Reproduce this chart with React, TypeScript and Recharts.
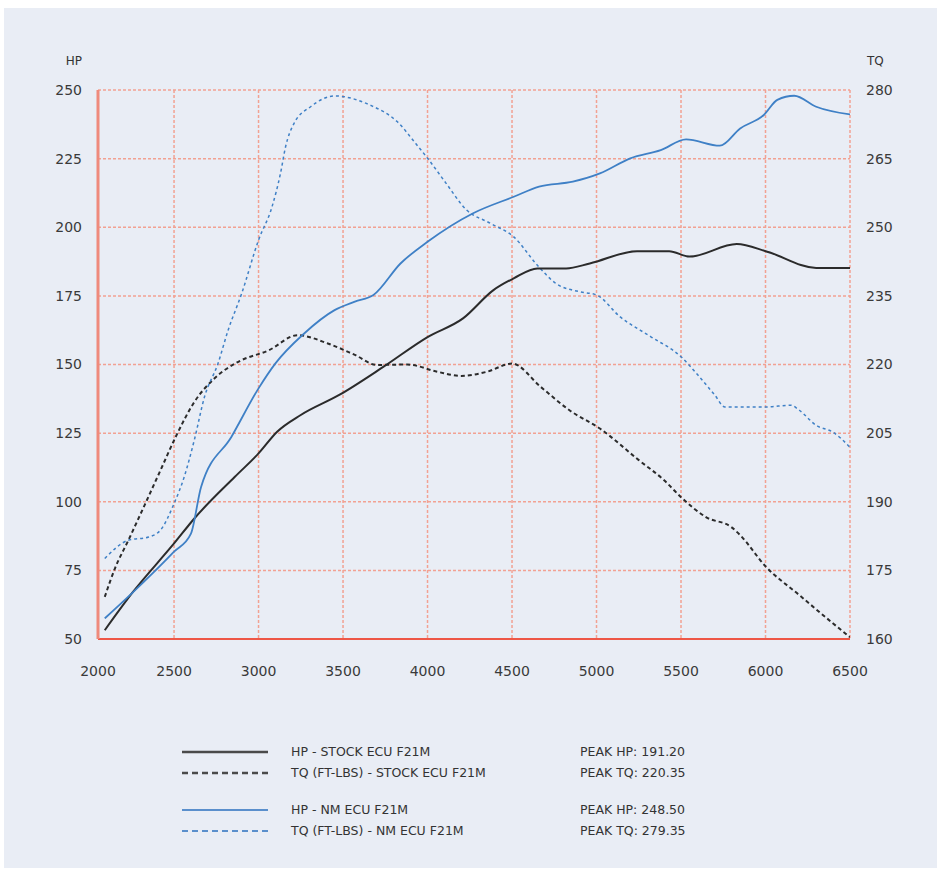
import { CartesianGrid, Line, LineChart, XAxis, YAxis } from 'recharts'

// x axis: the plot starts a little after 2000 rpm, first tick is labelled 2000
const X_TICKS = [2050, 2500, 3000, 3500, 4000, 4500, 5000, 5500, 6000, 6500]
const X_TICK_LABELS = ['2000', '2500', '3000', '3500', '4000', '4500', '5000', '5500', '6000', '6500']
const HP_TICKS = [50, 75, 100, 125, 150, 175, 200, 225, 250]
const TQ_TICKS = [160, 175, 190, 205, 220, 235, 250, 265, 280]

const STOCK_HP_RPM = [2090, 2250, 2500, 2620, 2860, 3000, 3110, 3250, 3480, 3740, 4000, 4210, 4390, 4510, 4650, 4820, 4960, 5240, 5430, 5550, 5830, 6010, 6300, 6500]
const STOCK_HP = [53.2, 66.6, 84.8, 93.9, 109.1, 117.6, 125.5, 131.6, 139.0, 149.2, 160.0, 166.8, 177.1, 181.4, 185.0, 185.0, 186.8, 191.3, 191.3, 189.3, 193.9, 191.1, 185.2, 185.2]

const STOCK_TQ_RPM = [2090, 2150, 2230, 2330, 2420, 2510, 2620, 2740, 2880, 3060, 3230, 3410, 3570, 3700, 3880, 4060, 4200, 4350, 4500, 4670, 4840, 5020, 5250, 5400, 5500, 5650, 5800, 5850, 6000, 6200, 6400, 6500]
const STOCK_TQ = [169.2, 175.4, 181.6, 189.6, 196.9, 204.2, 211.8, 217.0, 220.6, 223.1, 226.4, 224.6, 222.1, 219.9, 220.0, 218.4, 217.5, 218.4, 220.2, 215.1, 210.0, 206.0, 199.1, 194.7, 191.0, 186.6, 184.4, 182.7, 175.9, 169.6, 163.4, 160.4]

const NM_HP_RPM = [2090, 2250, 2500, 2600, 2660, 2840, 3000, 3100, 3270, 3450, 3570, 3680, 3840, 4000, 4270, 4510, 4660, 4860, 5020, 5200, 5380, 5530, 5730, 5850, 5990, 6070, 6170, 6300, 6500]
const NM_HP = [57.5, 66.6, 81.8, 88.4, 105.4, 123.7, 141.3, 150.4, 161.3, 169.8, 172.9, 175.3, 186.8, 194.7, 205.1, 211.1, 214.8, 216.6, 219.6, 225.1, 228.1, 232.0, 229.7, 236.0, 240.9, 246.4, 247.9, 243.9, 241.1]

const NM_TQ_RPM = [2090, 2230, 2350, 2420, 2500, 2560, 2620, 2680, 2760, 2820, 2900, 3000, 3080, 3130, 3160, 3210, 3310, 3450, 3660, 3820, 3930, 4000, 4110, 4230, 4370, 4510, 4650, 4760, 4900, 5000, 5140, 5320, 5500, 5600, 5700, 5760, 6000, 6150, 6200, 6300, 6400, 6500]
const NM_TQ = [177.6, 181.6, 182.3, 183.8, 189.6, 195.4, 203.5, 212.9, 220.2, 227.5, 235.5, 247.2, 254.5, 261.8, 267.6, 272.7, 276.4, 278.7, 276.7, 273.1, 268.3, 265.1, 259.6, 253.8, 250.9, 247.9, 241.7, 237.7, 235.9, 235.2, 230.4, 226.1, 221.7, 217.7, 213.3, 210.7, 210.7, 211.1, 210.0, 206.7, 205.2, 201.9]

const LEGEND_LABELS = ['HP - STOCK ECU F21M', 'TQ (FT-LBS) - STOCK ECU F21M', 'HP - NM ECU F21M', 'TQ (FT-LBS) - NM ECU F21M']
const LEGEND_PEAKS = ['PEAK HP: 191.20', 'PEAK TQ: 220.35', 'PEAK HP: 248.50', 'PEAK TQ: 279.35']

const BLACK = '#2b2b2b'
const BLUE = '#3f80c6'

const toPoints = (rpm: number[], vals: number[]) => rpm.map((r, i) => ({ rpm: r, v: vals[i] }))

const tickStyle = { fontSize: 14, fill: '#3a3a3a', fontFamily: 'DejaVu Sans' }

const legendRows = [
  { top: 744, color: '#4a4a4a', width: 2.5, dash: undefined },
  { top: 765, color: '#4a4a4a', width: 2.5, dash: '6 4' },
  { top: 802, color: '#5a8fcc', width: 2, dash: undefined },
  { top: 823, color: '#5a8fcc', width: 2, dash: '6 4' },
]

export default function App() {
  return (
    <div
      style={{
        position: 'absolute',
        left: 4,
        top: 8,
        width: 933,
        height: 860,
        background: '#e9edf5',
        fontFamily: 'DejaVu Sans, sans-serif',
        color: '#333',
      }}
    >
      <LineChart width={933} height={700} margin={{ top: 82, right: 27, bottom: 39, left: 34 }}>
        <CartesianGrid yAxisId="hp" stroke="#f2a192" strokeDasharray="3 2" strokeWidth={1.5} />
        <XAxis
          type="number"
          dataKey="rpm"
          domain={[2050, 6500]}
          ticks={X_TICKS}
          interval={0}
          allowDataOverflow
          tickFormatter={(v: number) => X_TICK_LABELS[X_TICKS.indexOf(v)]}
          axisLine={{ stroke: '#ee5646', strokeWidth: 2 }}
          tickLine={false}
          tickSize={6}
          tickMargin={21}
          tick={tickStyle}
        />
        <YAxis
          yAxisId="hp"
          domain={[50, 250]}
          ticks={HP_TICKS}
          interval={0}
          axisLine={{ stroke: '#ef8a7c', strokeWidth: 3 }}
          tickLine={false}
          tickSize={6}
          tickMargin={10}
          width={60}
          tick={tickStyle}
        />
        <YAxis
          yAxisId="tq"
          orientation="right"
          domain={[160, 280]}
          ticks={TQ_TICKS}
          interval={0}
          axisLine={false}
          tickLine={false}
          tickSize={6}
          tickMargin={10}
          width={60}
          tick={tickStyle}
        />
        <Line yAxisId="tq" data={toPoints(STOCK_TQ_RPM, STOCK_TQ)} dataKey="v" type="monotone" stroke={BLACK} strokeWidth={2} strokeDasharray="4 3" dot={false} isAnimationActive={false} />
        <Line yAxisId="tq" data={toPoints(NM_TQ_RPM, NM_TQ)} dataKey="v" type="monotone" stroke={BLUE} strokeWidth={1.5} strokeDasharray="3 3" dot={false} isAnimationActive={false} />
        <Line yAxisId="hp" data={toPoints(STOCK_HP_RPM, STOCK_HP)} dataKey="v" type="monotone" stroke={BLACK} strokeWidth={2} dot={false} isAnimationActive={false} />
        <Line yAxisId="hp" data={toPoints(NM_HP_RPM, NM_HP)} dataKey="v" type="monotone" stroke={BLUE} strokeWidth={1.8} dot={false} isAnimationActive={false} />
      </LineChart>

      <div style={{ position: 'absolute', left: 38, width: 40, top: 45, textAlign: 'right', fontSize: 12, lineHeight: '16px' }}>HP</div>
      <div style={{ position: 'absolute', left: 863, top: 45, fontSize: 12, lineHeight: '16px' }}>TQ</div>

      {legendRows.map((row, i) => (
        <div key={i} style={{ position: 'absolute', left: 0, top: row.top - 8, height: 16, width: 933, fontSize: 12.5, lineHeight: '16px' }}>
          <svg width={86} height={16} style={{ position: 'absolute', left: 178, top: 0 }}>
            <line x1={0} y1={8} x2={86} y2={8} stroke={row.color} strokeWidth={row.width} strokeDasharray={row.dash} />
          </svg>
          <span style={{ position: 'absolute', left: 287 }}>{LEGEND_LABELS[i]}</span>
          <span style={{ position: 'absolute', left: 576 }}>{LEGEND_PEAKS[i]}</span>
        </div>
      ))}
    </div>
  )
}
